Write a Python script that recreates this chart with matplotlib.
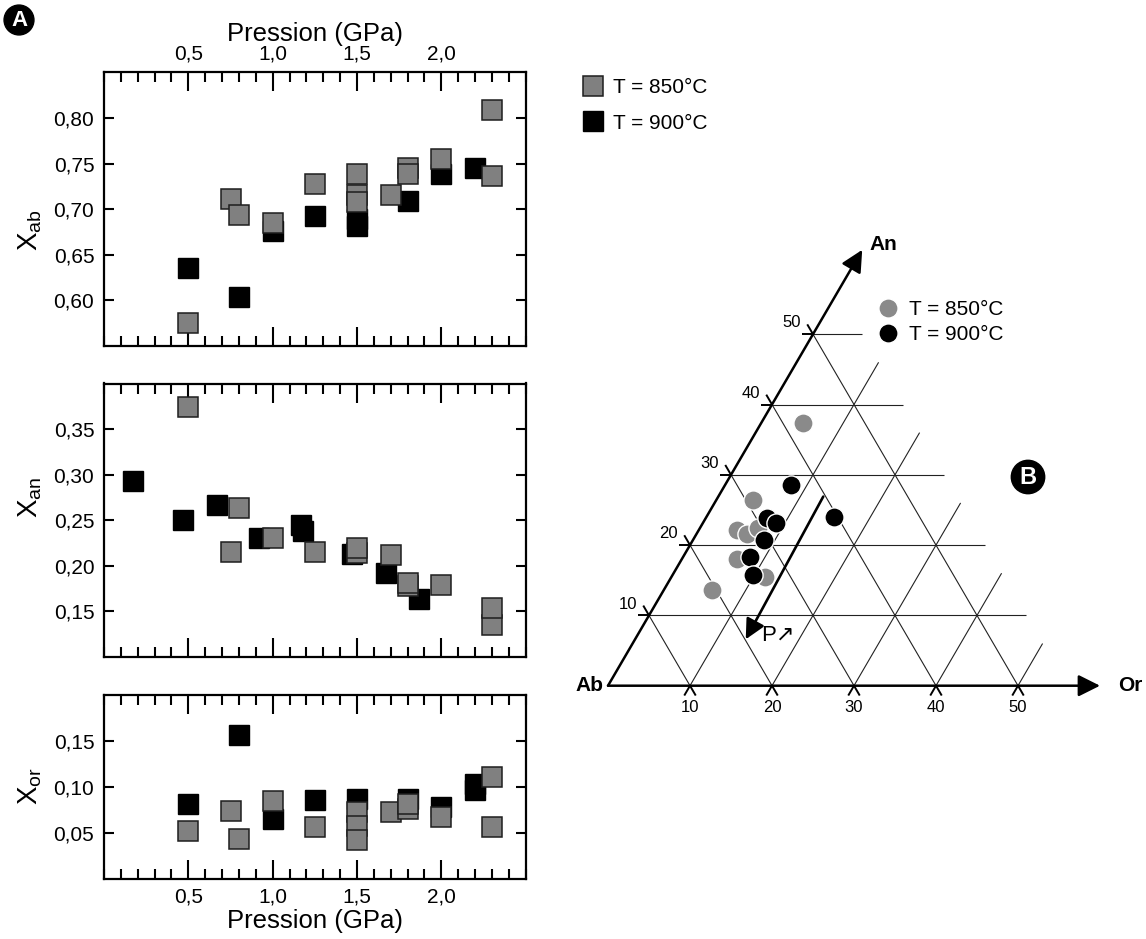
import matplotlib
matplotlib.use('Agg')
import matplotlib.pyplot as plt
from matplotlib.ticker import FixedLocator, FixedFormatter, MultipleLocator

plt.rcParams['font.family'] = ['Liberation Sans', 'DejaVu Sans']
plt.rcParams['mathtext.fontset'] = 'custom'
plt.rcParams['mathtext.rm'] = 'Liberation Sans'
plt.rcParams['mathtext.it'] = 'Liberation Sans:italic'

# ---------------- data ----------------
# X_ab
p850_ab = [0.5, 0.75, 0.8, 1.0, 1.25, 1.5, 1.5, 1.5, 1.7, 1.8, 1.8, 2.0, 2.3, 2.3]
x850_ab = [0.575, 0.711, 0.694, 0.685, 0.728, 0.738, 0.716, 0.708, 0.715, 0.745, 0.738, 0.755, 0.809, 0.736]
p900_ab = [0.5, 0.8, 1.0, 1.25, 1.5, 1.5, 1.8, 2.0, 2.2]
x900_ab = [0.635, 0.604, 0.676, 0.693, 0.689, 0.682, 0.709, 0.738, 0.745]
# X_an
p850_an = [0.5, 0.75, 0.8, 1.0, 1.25, 1.5, 1.5, 1.7, 1.8, 1.8, 2.0, 2.3, 2.3]
x850_an = [0.374, 0.215, 0.263, 0.231, 0.215, 0.214, 0.220, 0.212, 0.178, 0.181, 0.179, 0.135, 0.154]
p900_an = [0.17, 0.47, 0.67, 0.92, 1.17, 1.18, 1.47, 1.67, 1.87]
x900_an = [0.293, 0.250, 0.267, 0.230, 0.245, 0.238, 0.2125, 0.192, 0.164]
# X_or
p850_or = [0.5, 0.75, 0.8, 1.0, 1.25, 1.5, 1.5, 1.5, 1.7, 1.8, 1.8, 2.0, 2.3, 2.3]
x850_or = [0.0525, 0.074, 0.0434, 0.0853, 0.0569, 0.073, 0.0573, 0.0423, 0.0733, 0.0766, 0.0814, 0.067, 0.1105, 0.0562]
p900_or = [0.5, 0.8, 1.0, 1.25, 1.5, 1.8, 2.0, 2.2, 2.2]
x900_or = [0.0814, 0.157, 0.0657, 0.0861, 0.0875, 0.0872, 0.078, 0.1036, 0.097]

# ternary (Or %, An %)
t850_or = [5.1, 4.44, 4.62, 6.12, 7.13, 6.69, 11.4, 5.84]
t850_an = [37.4, 26.42, 22.15, 21.58, 22.39, 18.02, 15.5, 13.61]
t900_or = [8.04, 15.5, 7.52, 8.9, 8.66, 8.14, 9.85]
t900_an = [28.55, 24.03, 23.81, 23.19, 20.73, 18.35, 15.75]

xticks = [0.5, 1.0, 1.5, 2.0]
xtick_labels = ['0,5', '1,0', '1,5', '2,0']
ab_ticks = [0.60, 0.65, 0.70, 0.75, 0.80]
ab_labels = ['0,60', '0,65', '0,70', '0,75', '0,80']
an_ticks = [0.15, 0.20, 0.25, 0.30, 0.35]
an_labels = ['0,15', '0,20', '0,25', '0,30', '0,35']
or_ticks = [0.05, 0.10, 0.15]
or_labels = ['0,05', '0,10', '0,15']
tern_ticks = [10, 20, 30, 40, 50]
tern_labels = ['10', '20', '30', '40', '50']
label850 = 'T = 850°C'
label900 = 'T = 900°C'

# arrow "P" in ternary (Or, An)
p_arrow_from = (12.8, 26.9)
p_arrow_to = (13.5, 6.6)

GREY_SQ = '#808080'
GREY_CI = '#8a8a8a'

W, H = 1146, 939
fig = plt.figure(figsize=(W / 100, H / 100), dpi=100)


def fbox(l, t, r, b):
    return [l / W, 1 - b / H, (r - l) / W, (b - t) / H]


# ---------------- ternary (full-figure overlay axes) ----------------
OX, OY, SX, SY = 608.0, 685.7, 8.2, 7.03
ax_t = fig.add_axes([0, 0, 1, 1])
ax_t.set_xlim((0 - OX) / SX, (W - OX) / SX)
ax_t.set_ylim((OY - H) / SY, OY / SY)
ax_t.axis('off')
ax_t.patch.set_alpha(0)


def tern(o, a):
    return o + a / 2.0, a


GL = dict(color='#222222', lw=0.8, zorder=1, solid_capstyle='butt')
TK = dict(color='k', lw=1.4, zorder=1, solid_capstyle='butt')
for j, k in enumerate(tern_ticks):
    # constant An
    xa, ya = tern(0, k)
    xb, yb = tern(56 - k, k)
    ax_t.plot([xa, xb], [ya, yb], **GL)
    ax_t.plot([xa - 1.4, xa], [ya, ya], **TK)
    # constant Or
    xa, ya = tern(k, 0)
    xb, yb = tern(k, 56 - k)
    ax_t.plot([xa, xb], [ya, yb], **GL)
    ax_t.plot([xa - 0.7, xa], [-1.4, 0], **TK)
    # constant Ab
    xa, ya = tern(k, 0)
    xb, yb = tern(0, k)
    ax_t.plot([xa, xb], [ya, yb], **GL)
    ax_t.plot([xa, xa + 0.7], [0, -1.4], **TK)
    ax_t.plot([xb, xb - 0.7], [yb, yb + 1.4], **TK)
    # labels
    ax_t.text(k, -3.1, tern_labels[j], ha='center', va='center', fontsize=12)
    ax_t.text(k / 2 - 2.6, k + 1.6, tern_labels[j], ha='center', va='center', fontsize=12)

AP = dict(arrowstyle='-|>,head_length=0.6,head_width=0.3', lw=1.8, color='k',
          shrinkA=0, shrinkB=0, mutation_scale=22)
ax_t.annotate('', xy=tern(60, 0), xytext=tern(0, 0), arrowprops=AP, zorder=2)
ax_t.annotate('', xy=tern(0, 62), xytext=tern(0, 0), arrowprops=AP, zorder=2)
ax_t.annotate('', xy=tern(*p_arrow_to), xytext=tern(*p_arrow_from),
              arrowprops=dict(arrowstyle='-|>,head_length=0.6,head_width=0.3', lw=1.9, color='k',
                              shrinkA=0, shrinkB=0, mutation_scale=20), zorder=2)
px_, py_ = tern(*p_arrow_to)
ax_t.text(px_ + 1.9, py_ + 0.5, 'P↗', ha='left', va='center', fontsize=16)

ax_t.text(-0.6, 0, 'Ab', ha='right', va='center', fontsize=15, fontweight='bold')
ax_t.text(62.2, 0, 'Or', ha='left', va='center', fontsize=15, fontweight='bold')
ax_t.text(31.9, 62.7, 'An', ha='left', va='center', fontsize=15, fontweight='bold')

tx850 = [o + a / 2 for o, a in zip(t850_or, t850_an)]
tx900 = [o + a / 2 for o, a in zip(t900_or, t900_an)]
h850c, = ax_t.plot(tx850, t850_an, 'o', ms=13.8, mfc=GREY_CI, mec='white', mew=1.0, ls='none', zorder=3)
h900c, = ax_t.plot(tx900, t900_an, 'o', ms=13.8, mfc='black', mec='white', mew=1.0, ls='none', zorder=4)
leg_t = ax_t.legend([h850c, h900c], [label850, label900], loc='upper left',
                    bbox_to_anchor=(878 / W, 1 - 300 / H), bbox_transform=fig.transFigure,
                    frameon=False, borderpad=0, borderaxespad=0, handlelength=1.0,
                    handletextpad=0.5, labelspacing=0.3, fontsize=15)

# badges
fig.text(19 / W, 1 - 20 / H, 'A', ha='center', va='center', fontsize=16, fontweight='bold', color='white',
         bbox=dict(boxstyle='circle,pad=0.2', fc='black', ec='black'))
fig.text(1028 / W, 1 - 477 / H, 'B', ha='center', va='center', fontsize=17, fontweight='bold', color='white',
         bbox=dict(boxstyle='circle,pad=0.22', fc='black', ec='black'))

# ---------------- left panels ----------------
boxes = [fbox(104, 72.3, 525.7, 346), fbox(104, 383.5, 525.7, 657), fbox(104, 695, 525.7, 879)]
ylims = [(0.55, 0.85), (0.10, 0.40), (0.0, 0.20)]
ydata = [(p850_ab, x850_ab, p900_ab, x900_ab), (p850_an, x850_an, p900_an, x900_an),
         (p850_or, x850_or, p900_or, x900_or)]
yticks = [(ab_ticks, ab_labels), (an_ticks, an_labels), (or_ticks, or_labels)]
ylabels = [r'X$_{\rm ab}$', r'X$_{\rm an}$', r'X$_{\rm or}$']
ylabel_pos = [230, 497, 786]

for i in range(3):
    ax = fig.add_axes(boxes[i])
    p8, x8, p9, x9 = ydata[i]
    h900, = ax.plot(p9, x9, 's', ms=13.8, mfc='black', mec='black', mew=1.0, ls='none', zorder=3)
    h850, = ax.plot(p8, x8, 's', ms=13.8, mfc=GREY_SQ, mec='#1e1e1e', mew=1.1, ls='none', zorder=4)
    ax.set_xlim(0, 2.5)
    ax.set_ylim(*ylims[i])
    ax.xaxis.set_major_locator(FixedLocator(xticks))
    ax.xaxis.set_major_formatter(FixedFormatter(xtick_labels))
    ax.xaxis.set_minor_locator(MultipleLocator(0.1))
    ax.yaxis.set_major_locator(FixedLocator(yticks[i][0]))
    ax.yaxis.set_major_formatter(FixedFormatter(yticks[i][1]))
    ax.tick_params(which='both', direction='in', top=True, right=True, width=1.5, labelsize=15)
    ax.tick_params(axis='x', which='major', length=14, pad=6)
    ax.tick_params(axis='x', which='minor', length=7)
    ax.tick_params(axis='y', which='major', length=7.5, pad=7)
    for s in ax.spines.values():
        s.set_linewidth(1.6)
    fig.text(30 / W, 1 - ylabel_pos[i] / H, ylabels[i], rotation=90, ha='center', va='center', fontsize=20)
    if i == 0:
        ax.tick_params(axis='x', labeltop=True, labelbottom=False)
        ax.xaxis.set_label_position('top')
        ax.set_xlabel('Pression (GPa)', fontsize=18.5, labelpad=3)
        fig.legend([h850, h900], [label850, label900], loc='upper left',
                   bbox_to_anchor=(583 / W, 1 - 78 / H), frameon=False, borderpad=0, borderaxespad=0,
                   handlelength=1.0, handletextpad=0.45, labelspacing=0.8, fontsize=15)
    elif i == 1:
        ax.tick_params(axis='x', labelbottom=False)
    else:
        ax.set_xlabel('Pression (GPa)', fontsize=18.5, labelpad=2)

fig.savefig('out.png', dpi=100)
